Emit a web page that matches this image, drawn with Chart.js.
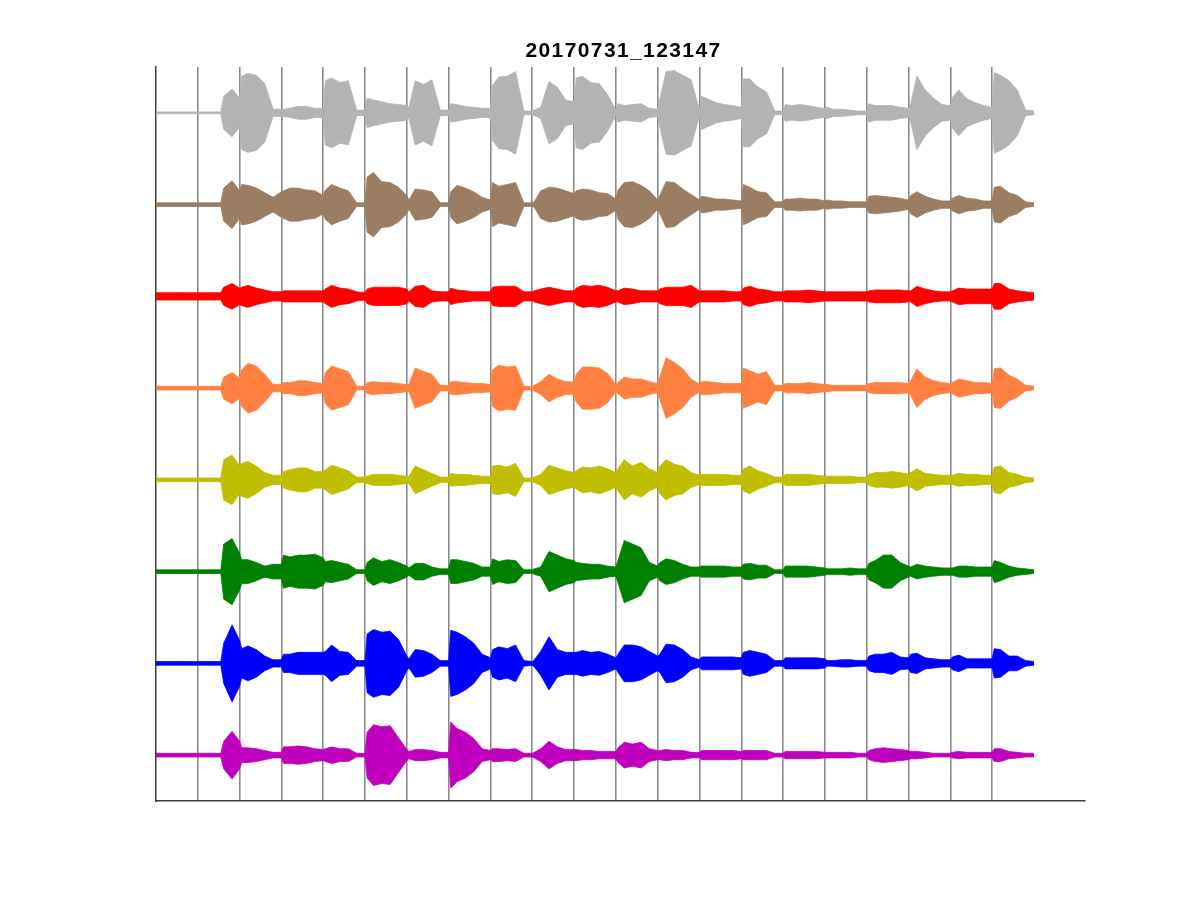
<!DOCTYPE html>
<html>
<head>
<meta charset="utf-8">
<script src="https://cdn.jsdelivr.net/npm/chart.js@4.4.1/dist/chart.umd.min.js"></script>
<style>
  html, body { margin: 0; padding: 0; background: #ffffff; }
  #wrap { width: 1200px; height: 900px; }
</style>
</head>
<body>
<div id="wrap"><canvas id="c" width="1200" height="900"></canvas></div>
<script>
// ---- data ----
const TITLE = '20170731_123147';

// sample times (s): six samples per second
const TIME = [
  0,0.05,0.2,0.4,0.6,0.8,       1,1.05,1.2,1.55,1.62,1.82,    2,2.05,2.2,2.4,2.6,2.8,
  3,3.05,3.2,3.4,3.6,3.8,       4,4.05,4.2,4.4,4.6,4.8,       5,5.05,5.2,5.4,5.6,5.8,
  6,6.05,6.2,6.4,6.6,6.8,       7,7.05,7.2,7.4,7.6,7.8,       8,8.05,8.2,8.4,8.6,8.8,
  9,9.05,9.2,9.4,9.6,9.8,       10,10.05,10.2,10.4,10.6,10.8, 11,11.05,11.2,11.4,11.6,11.8,
  12,12.05,12.2,12.4,12.6,12.8, 13,13.05,13.2,13.4,13.6,13.8, 14,14.05,14.2,14.4,14.6,14.8,
  15,15.05,15.2,15.4,15.6,15.8, 16,16.05,16.2,16.4,16.6,16.8, 17,17.05,17.2,17.4,17.6,17.8,
  18,18.05,18.2,18.4,18.6,18.8, 19,19.05,19.2,19.4,19.6,19.8, 20,20.05,20.2,20.4,20.6,20.8,
  21
];

// envelope amplitude of each channel (% of channel spacing)
const GRAY = [
  1,1,1,1,1,1,  1,1,1,1,18,26,  16,40,43,41,32,4,  4,4,5,7,7,5,  5,35,38,33,35,3,
  3,16,14,12,10,9,  8,6,35,31,36,3,  3,10,9,7,6,5,  5,30,39,40,45,2,  2,3,6,34,28,14,
  12,38,40,33,32,20,  3,10,8,9,10,5,  4,15,45,46,41,36,  3,18,15,11,9,8,  6,37,37,28,23,2,
  2,9,8,9,8,6,  5,6,4,4,3,2,  2,10,8,8,8,6,  5,10,40,25,16,9,  8,17,25,15,11,8,
  6,44,41,35,25,3,  2
];
const BROWN = [
  2,2,2,2,2,2,  2,2,2,2,18,26,  15,22,21,18,13,8,  14,15,18,18,16,15,  10,16,22,18,15,2,
  2,30,35,25,24,19,  10,5,17,16,14,2,  2,14,21,18,14,8,  5,24,20,22,24,2,  2,3,15,19,18,15,
  12,15,17,16,13,12,  6,16,24,25,21,15,  5,10,25,24,17,11,  5,9,8,6,6,5,  4,22,19,14,13,3,
  3,6,6,7,6,6,  4,5,4,4,3,3,  3,9,10,9,8,7,  5,10,14,9,6,4,  4,7,10,7,6,4,
  4,19,20,13,10,3,  2
];
const RED = [
  4,4,4,4,4,4,  4,4,4,4,10,14,  9,10,12,9,7,5,  5,6,6,6,6,6,  6,8,12,9,8,5,
  4,8,10,10,10,10,  8,5,11,12,6,5,  5,9,7,6,5,5,  5,10,11,11,11,5,  5,6,8,10,8,6,
  6,9,12,11,12,10,  6,6,9,8,6,6,  6,8,10,10,10,12,  6,6,6,6,6,5,  5,9,11,8,7,5,
  5,6,6,6,7,6,  5,5,5,5,5,5,  5,6,7,7,7,7,  6,6,11,8,6,5,  5,6,9,8,8,8,
  8,14,14,8,6,5,  4
];
const ORANGE = [
  2,2,2,2,2,2,  2,2,2,2,12,17,  11,20,27,24,15,4,  4,6,6,8,8,6,  5,17,24,21,18,2,
  2,6,7,6,6,5,  4,4,22,18,15,3,  3,7,7,6,5,5,  4,20,25,23,24,2,  2,3,7,15,10,7,
  7,15,23,23,22,16,  4,6,12,10,10,7,  5,12,33,28,21,10,  4,7,7,6,5,5,  5,22,19,15,18,3,
  3,5,5,5,6,5,  4,4,3,3,3,3,  3,5,6,6,6,6,  5,8,21,12,8,6,  5,6,10,8,6,6,
  5,21,22,14,10,3,  2
];
const YELLOW = [
  2,2,2,2,2,2,  2,2,2,2,22,27,  15,18,20,15,8,5,  5,9,11,13,13,9,  9,11,16,13,10,3,
  3,4,6,6,6,5,  4,4,15,11,7,3,  3,7,6,6,5,4,  4,15,16,14,18,2,  2,3,6,16,13,10,
  8,10,14,13,15,12,  8,12,22,15,19,12,  8,15,22,17,15,8,  5,6,6,6,6,5,  5,12,15,10,7,3,
  3,6,6,6,6,5,  4,4,4,4,4,3,  3,6,8,8,9,8,  6,8,12,7,6,5,  5,5,7,6,6,5,
  5,14,15,8,6,3,  2
];
const GREEN = [
  2,2,2,2,2,2,  2,2,2,2,30,36,  20,13,13,10,6,8,  8,18,16,18,18,19,  15,11,12,10,8,2,
  2,10,15,11,13,10,  6,4,9,9,5,3,  3,13,13,11,9,5,  5,14,11,13,12,2,  2,3,5,22,18,14,
  12,10,9,8,8,6,  5,12,34,30,26,10,  6,10,14,12,8,5,  5,6,6,6,6,5,  5,8,9,7,7,2,
  2,6,6,6,6,5,  4,3,3,3,4,3,  3,9,12,18,18,10,  6,5,8,6,5,4,  4,4,6,6,5,5,
  5,12,10,6,4,3,  2
];
const BLUE = [
  2,2,2,2,2,2,  2,2,2,2,22,42,  25,16,19,15,8,4,  4,10,10,12,12,12,  12,13,20,13,12,3,
  3,32,37,34,35,26,  8,5,15,14,10,3,  3,36,34,29,22,10,  6,15,18,16,20,3,  2,4,13,29,15,12,
  12,12,14,12,13,10,  6,10,20,20,18,13,  8,10,21,20,15,7,  4,7,7,7,7,7,  6,12,14,12,10,3,
  3,6,6,6,6,6,  5,3,3,4,4,3,  3,8,10,10,12,7,  6,10,11,6,5,4,  4,7,9,5,5,5,
  5,16,15,8,8,3,  2
];
const MAGENTA = [
  2,2,2,2,2,2,  2,2,2,2,15,26,  15,8,8,7,5,3,  3,9,9,10,9,7,  6,7,9,7,7,2,
  2,25,33,31,32,19,  6,4,6,6,5,3,  3,36,29,25,18,7,  5,7,7,6,7,2,  2,3,7,15,9,6,
  6,6,5,5,4,4,  4,8,14,12,14,7,  5,5,6,5,5,3,  3,5,5,5,5,5,  4,5,5,5,5,2,
  2,4,4,4,4,4,  3,3,3,3,3,2,  2,5,7,8,7,6,  5,4,4,3,2,2,  2,3,4,3,3,3,
  3,7,7,4,3,2,  2
];

// channels from top to bottom
const CHANNELS = [GRAY, BROWN, RED, ORANGE, YELLOW, GREEN, BLUE, MAGENTA];
const COLORS = ['#b3b3b3', '#9a7d62', '#ff0000', '#ff8040', '#bfbf00', '#008000', '#0000ff', '#bf00bf'];
const MARKERS = [1,2,3,4,5,6,7,8,9,10,11,12,13,14,15,16,17,18,19,20]; // vertical marker times

// ---- build chart ----
const N = CHANNELS.length;
const datasets = [];
CHANNELS.forEach((amp, i) => {
  const off = (N - 1 - i) + 0.5;
  const col = COLORS[i];
  datasets.push({
    data: TIME.map((t, j) => ({ x: t, y: off + amp[j] / 100 })),
    borderColor: col, backgroundColor: col, borderWidth: 0.8,
    pointRadius: 0, tension: 0, fill: false
  });
  datasets.push({
    data: TIME.map((t, j) => ({ x: t, y: off - amp[j] / 100 })),
    borderColor: col, backgroundColor: col, borderWidth: 0.8,
    pointRadius: 0, tension: 0, fill: '-1'
  });
});

const titlePlugin = {
  id: 'titleText',
  afterDraw(chart) {
    const ctx = chart.ctx;
    ctx.save();
    ctx.fillStyle = '#000000';
    ctx.font = 'bold 21px "Liberation Sans", Arial, sans-serif';
    ctx.textAlign = 'center';
    ctx.textBaseline = 'alphabetic';
    try { ctx.letterSpacing = '1.4px'; } catch (e) {}
    const a = chart.chartArea;
    ctx.fillText(TITLE, (a.left + a.right) / 2 + 3, 57);
    ctx.restore();
  }
};

new Chart(document.getElementById('c'), {
  type: 'line',
  data: { datasets },
  plugins: [titlePlugin],
  options: {
    responsive: false,
    animation: false,
    events: [],
    layout: { padding: { left: 156, right: 115, top: 67, bottom: 99 } },
    plugins: { legend: { display: false }, tooltip: { enabled: false }, title: { display: false } },
    scales: {
      x: {
        type: 'linear', min: 0, max: 22.22, z: 1,
        afterBuildTicks(scale) { scale.ticks = MARKERS.map(v => ({ value: v })); },
        ticks: { display: false },
        grid: { drawTicks: false, color: '#8a8a8a', lineWidth: 1.6 },
        border: { display: true, color: '#3d3d3d', width: 1.5 }
      },
      y: {
        type: 'linear', min: 0, max: 8,
        ticks: { display: false },
        grid: { display: false, drawTicks: false },
        border: { display: true, color: '#3d3d3d', width: 1.5 }
      }
    }
  }
});
</script>
</body>
</html>
